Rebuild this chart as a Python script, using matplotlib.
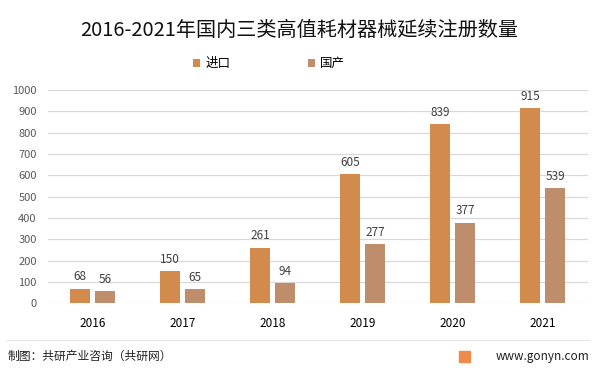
import matplotlib
matplotlib.use("Agg")
import matplotlib.pyplot as plt
import numpy as np

plt.rcParams['font.family'] = ['Noto Sans CJK SC', 'DejaVu Sans']

years = ["2016", "2017", "2018", "2019", "2020", "2021"]
imported = [68, 150, 261, 605, 839, 915]
domestic = [56, 65, 94, 277, 377, 539]

c_imp = "#D38B4D"
c_dom = "#BE8E6C"

fig = plt.figure(figsize=(5.98, 3.71), dpi=100)
ax = fig.add_axes([0.080, 0.183, 0.903, 0.574])

x = np.arange(len(years))
w = 0.22
off = 0.139
b1 = ax.bar(x - off, imported, w, color=c_imp, label="进口", zorder=3)
b2 = ax.bar(x + off, domestic, w, color=c_dom, label="国产", zorder=3)

for bars, vals in ((b1, imported), (b2, domestic)):
    for r, v in zip(bars, vals):
        ax.text(r.get_x() + r.get_width() / 2, v + 25, str(v), ha="center",
                va="bottom", fontsize=8.5, color="#404040")

ax.set_xlim(-0.5, len(years) - 0.5)
ax.set_ylim(0, 1000)
ax.set_yticks(range(0, 1001, 100))
ax.set_xticks(x)
ax.set_xticklabels(years)
ax.tick_params(axis="y", length=0, labelsize=8, labelcolor="#595959", pad=8)
ax.tick_params(axis="x", length=0, labelsize=8.5, labelcolor="#000000", pad=10)
ax.grid(axis="y", color="#D9D9D9", linewidth=0.9, zorder=0)
for s in ax.spines.values():
    s.set_visible(False)

fig.text(0.5, 0.919, "2016-2021年国内三类高值耗材器械延续注册数量",
         ha="center", va="center", fontsize=14.5, color="#111111")
fig.legend(handles=[b1, b2], loc="center", bbox_to_anchor=(0.450, 0.828),
           ncol=2, frameon=False, fontsize=9, handlelength=0.6,
           handleheight=0.6, columnspacing=6.2, handletextpad=0.4)

# footer
fig.add_artist(plt.Line2D([0.01, 0.985], [0.083, 0.083], color="#E6E6E6",
                          linewidth=0.8, transform=fig.transFigure))
fig.text(0.013, 0.040, "制图：共研产业咨询（共研网）", ha="left", va="center",
         fontsize=8.5, color="#222222")
fig.text(0.985, 0.040, "www.gonyn.com", ha="right", va="center",
         fontsize=8.5, color="#222222")
fig.patches.append(plt.Rectangle((0.768, 0.025), 0.018, 0.03, color="#F08A4B",
                                 transform=fig.transFigure, figure=fig))

fig.savefig("out.png", dpi=100)
